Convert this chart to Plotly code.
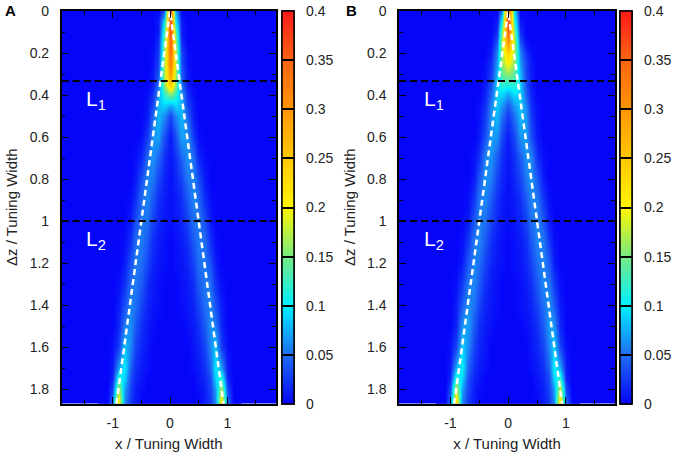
import plotly.graph_objects as go
from plotly.subplots import make_subplots

# grid: columns are x / tuning width, rows are dz / tuning width
x_cols = [-1.2, -1.1, -1.0, -0.9, -0.8, -0.7, -0.6, -0.5, -0.4, -0.3, -0.2, -0.1, 0.0,
          0.1, 0.2, 0.3, 0.4, 0.5, 0.6, 0.7, 0.8, 0.9, 1.0, 1.1, 1.2]
z_rows = [0.0, 0.05, 0.1, 0.15, 0.2, 0.25, 0.3, 0.35, 0.4, 0.45, 0.5, 0.6, 0.7, 0.8,
          0.9, 1.0, 1.1, 1.2, 1.3, 1.4, 1.5, 1.6, 1.7, 1.75, 1.8, 1.87]

# panel A
dens_a = [
    [0, 0, 0, 0, 0, 0, 0, 0, 0, 0, 0, .04, .38, .08, 0, 0, 0, 0, 0, 0, 0, 0, 0, 0, 0],
    [0, 0, 0, 0, 0, 0, 0, 0, 0, 0, .01, .10, .38, .11, .01, 0, 0, 0, 0, 0, 0, 0, 0, 0, 0],
    [0, 0, 0, 0, 0, 0, 0, 0, 0, 0, .01, .13, .37, .15, .01, 0, 0, 0, 0, 0, 0, 0, 0, 0, 0],
    [0, 0, 0, 0, 0, 0, 0, 0, 0, 0, .02, .15, .36, .17, .02, 0, 0, 0, 0, 0, 0, 0, 0, 0, 0],
    [0, 0, 0, 0, 0, 0, 0, 0, 0, .005, .025, .16, .35, .18, .03, .005, 0, 0, 0, 0, 0, 0, 0, 0, 0],
    [0, 0, 0, 0, 0, 0, 0, 0, 0, .005, .03, .17, .33, .18, .035, .005, 0, 0, 0, 0, 0, 0, 0, 0, 0],
    [0, 0, 0, 0, 0, 0, 0, 0, 0, .01, .04, .17, .30, .17, .04, .01, 0, 0, 0, 0, 0, 0, 0, 0, 0],
    [0, 0, 0, 0, 0, 0, 0, 0, 0, .01, .05, .16, .25, .16, .05, .01, 0, 0, 0, 0, 0, 0, 0, 0, 0],
    [0, 0, 0, 0, 0, 0, 0, 0, .005, .02, .07, .12, .15, .12, .07, .02, .005, 0, 0, 0, 0, 0, 0, 0, 0],
    [0, 0, 0, 0, 0, 0, 0, 0, .01, .03, .08, .09, .07, .09, .08, .03, .01, 0, 0, 0, 0, 0, 0, 0, 0],
    [0, 0, 0, 0, 0, 0, 0, 0, .01, .045, .08, .06, .03, .06, .08, .045, .01, 0, 0, 0, 0, 0, 0, 0, 0],
    [0, 0, 0, 0, 0, 0, 0, .005, .025, .065, .07, .035, .01, .035, .07, .065, .025, .005, 0, 0, 0, 0, 0, 0, 0],
    [0, 0, 0, 0, 0, 0, .005, .015, .05, .065, .045, .02, .008, .02, .045, .065, .05, .015, .005, 0, 0, 0, 0, 0, 0],
    [0, 0, 0, 0, 0, 0, .01, .035, .06, .055, .03, .015, .005, .015, .03, .055, .06, .035, .01, 0, 0, 0, 0, 0, 0],
    [0, 0, 0, 0, 0, .005, .02, .05, .06, .04, .02, .01, .005, .01, .02, .04, .06, .05, .02, .005, 0, 0, 0, 0, 0],
    [0, 0, 0, 0, 0, .01, .035, .055, .05, .03, .015, .008, .005, .008, .015, .03, .05, .055, .035, .01, 0, 0, 0, 0, 0],
    [0, 0, 0, 0, .005, .02, .05, .055, .04, .02, .01, .005, 0, .005, .01, .02, .04, .055, .05, .02, .005, 0, 0, 0, 0],
    [0, 0, 0, 0, .01, .035, .055, .05, .03, .015, .008, .005, 0, .005, .008, .015, .03, .05, .055, .035, .01, 0, 0, 0, 0],
    [0, 0, 0, .005, .02, .05, .055, .04, .02, .01, .005, 0, 0, 0, .005, .01, .02, .04, .055, .05, .02, .005, 0, 0, 0],
    [0, 0, 0, .01, .035, .06, .05, .03, .015, .008, .005, 0, 0, 0, .005, .008, .015, .03, .05, .06, .035, .01, 0, 0, 0],
    [0, 0, 0, .015, .055, .065, .04, .02, .01, .005, 0, 0, 0, 0, 0, .005, .01, .02, .04, .065, .055, .015, 0, 0, 0],
    [0, 0, .005, .025, .085, .06, .03, .015, .008, 0, 0, 0, 0, 0, 0, 0, .008, .015, .03, .06, .085, .025, .005, 0, 0],
    [0, 0, .01, .07, .10, .045, .02, .01, .005, 0, 0, 0, 0, 0, 0, 0, .005, .01, .02, .045, .10, .07, .01, 0, 0],
    [0, 0, .015, .12, .09, .035, .015, .008, 0, 0, 0, 0, 0, 0, 0, 0, 0, .008, .015, .035, .09, .12, .015, 0, 0],
    [0, 0, .03, .17, .07, .03, .012, .005, 0, 0, 0, 0, 0, 0, 0, 0, 0, .005, .012, .03, .07, .17, .03, 0, 0],
    [0, 0, .05, .22, .06, .025, .01, 0, 0, 0, 0, 0, 0, 0, 0, 0, 0, 0, .01, .025, .06, .22, .05, 0, 0],
]

# panel B
dens_b = [
    [0, 0, 0, 0, 0, 0, 0, 0, 0, 0, 0, .06, .38, .10, 0, 0, 0, 0, 0, 0, 0, 0, 0, 0, 0],
    [0, 0, 0, 0, 0, 0, 0, 0, 0, 0, .01, .12, .38, .13, .01, 0, 0, 0, 0, 0, 0, 0, 0, 0, 0],
    [0, 0, 0, 0, 0, 0, 0, 0, 0, 0, .02, .16, .35, .16, .02, 0, 0, 0, 0, 0, 0, 0, 0, 0, 0],
    [0, 0, 0, 0, 0, 0, 0, 0, 0, .005, .04, .18, .30, .18, .04, .005, 0, 0, 0, 0, 0, 0, 0, 0, 0],
    [0, 0, 0, 0, 0, 0, 0, 0, 0, .01, .06, .17, .24, .17, .06, .02, .005, 0, 0, 0, 0, 0, 0, 0, 0],
    [0, 0, 0, 0, 0, 0, 0, 0, .005, .02, .07, .16, .20, .16, .07, .03, .01, 0, 0, 0, 0, 0, 0, 0, 0],
    [0, 0, 0, 0, 0, 0, 0, 0, .005, .025, .08, .14, .16, .14, .08, .03, .01, 0, 0, 0, 0, 0, 0, 0, 0],
    [0, 0, 0, 0, 0, 0, 0, 0, .01, .035, .09, .12, .11, .12, .09, .035, .01, 0, 0, 0, 0, 0, 0, 0, 0],
    [0, 0, 0, 0, 0, 0, 0, 0, .015, .045, .09, .09, .07, .09, .09, .045, .015, 0, 0, 0, 0, 0, 0, 0, 0],
    [0, 0, 0, 0, 0, 0, 0, .005, .02, .06, .085, .065, .04, .065, .085, .06, .02, .005, 0, 0, 0, 0, 0, 0, 0],
    [0, 0, 0, 0, 0, 0, 0, .005, .025, .065, .08, .05, .025, .05, .08, .065, .025, .005, 0, 0, 0, 0, 0, 0, 0],
    [0, 0, 0, 0, 0, 0, 0, .01, .035, .07, .065, .03, .01, .03, .065, .07, .035, .01, 0, 0, 0, 0, 0, 0, 0],
    [0, 0, 0, 0, 0, 0, .005, .02, .06, .065, .04, .02, .008, .02, .04, .065, .06, .02, .005, 0, 0, 0, 0, 0, 0],
    [0, 0, 0, 0, 0, 0, .01, .04, .065, .055, .03, .015, .005, .015, .03, .055, .065, .04, .01, 0, 0, 0, 0, 0, 0],
    [0, 0, 0, 0, 0, .005, .025, .055, .06, .04, .02, .01, .005, .01, .02, .04, .06, .055, .025, .005, 0, 0, 0, 0, 0],
    [0, 0, 0, 0, 0, .01, .04, .06, .05, .03, .015, .008, .005, .008, .015, .03, .05, .06, .04, .01, 0, 0, 0, 0, 0],
    [0, 0, 0, 0, .005, .025, .055, .06, .04, .02, .01, .005, 0, .005, .01, .02, .04, .06, .055, .025, .005, 0, 0, 0, 0],
    [0, 0, 0, 0, .01, .04, .06, .05, .03, .015, .008, .005, 0, .005, .008, .015, .03, .05, .06, .04, .01, 0, 0, 0, 0],
    [0, 0, 0, .005, .025, .055, .06, .04, .02, .01, .005, 0, 0, 0, .005, .01, .02, .04, .06, .055, .025, .005, 0, 0, 0],
    [0, 0, 0, .01, .04, .065, .05, .03, .015, .008, .005, 0, 0, 0, .005, .008, .015, .03, .05, .065, .04, .01, 0, 0, 0],
    [0, 0, 0, .015, .065, .07, .04, .02, .01, .005, 0, 0, 0, 0, 0, .005, .01, .02, .04, .07, .065, .015, 0, 0, 0],
    [0, 0, .005, .03, .09, .06, .03, .015, .008, 0, 0, 0, 0, 0, 0, 0, .008, .015, .03, .06, .09, .03, .005, 0, 0],
    [0, 0, .01, .075, .105, .045, .02, .01, .005, 0, 0, 0, 0, 0, 0, 0, .005, .01, .02, .045, .105, .075, .01, 0, 0],
    [0, 0, .015, .125, .09, .035, .015, .008, 0, 0, 0, 0, 0, 0, 0, 0, 0, .008, .015, .035, .09, .125, .015, 0, 0],
    [0, 0, .03, .18, .07, .03, .012, .005, 0, 0, 0, 0, 0, 0, 0, 0, 0, .005, .012, .03, .07, .18, .03, 0, 0],
    [0, 0, .05, .23, .06, .025, .01, 0, 0, 0, 0, 0, 0, 0, 0, 0, 0, 0, .01, .025, .06, .23, .05, 0, 0],
]

# white dashed V (ballistic path) and the two reference depths
v_x = [-0.935, 0.0, 0.935]
v_z = [1.87, 0.0, 1.87]
level_z = [1 / 3, 1.0]
level_text = ['L<sub>1</sub>', 'L<sub>2</sub>']

cbar_vals = [0, 0.05, 0.1, 0.15, 0.2, 0.25, 0.3, 0.35, 0.4]
cbar_text = ['0', '0.05', '0.1', '0.15', '0.2', '0.25', '0.3', '0.35', '0.4']
x_tick_vals = [-1, 0, 1]
x_tick_text = ['-1', '0', '1']

BG = 'rgb(5,5,250)'
scale = [
    [0.0, BG],
    [0.125, 'rgb(30,110,245)'],
    [0.25, 'rgb(0,240,255)'],
    [0.375, 'rgb(120,235,130)'],
    [0.5, 'rgb(255,245,0)'],
    [0.625, 'rgb(255,200,0)'],
    [0.75, 'rgb(255,150,0)'],
    [0.875, 'rgb(255,100,20)'],
    [1.0, 'rgb(255,25,25)'],
]

W, H = 677, 460
FONT = 'Liberation Sans, Arial, sans-serif'
TOP, BOT = 11, 403.5
CB_W = 12


def bar(cb_left, labels):
    # gnuplot style: tic lines run across the bar, labels sit a bit away from it
    cb = dict(
        x=cb_left / W, xanchor='left', xpad=0, ypad=0,
        y=1 - TOP / H, yanchor='top', len=(BOT - TOP) / H, lenmode='fraction',
        thickness=CB_W, outlinecolor='black', outlinewidth=1.5,
        tickvals=cbar_vals, ticktext=cbar_text,
        tickfont=dict(size=14, color='#222'),
    )
    if labels:
        cb.update(ticks='outside', ticklen=9, tickcolor='rgba(0,0,0,0)')
    else:
        cb.update(ticks='inside', ticklen=CB_W, tickcolor='black', tickwidth=1.5,
                  showticklabels=False)
    return cb


fig = make_subplots(rows=1, cols=2)

panels = [(dens_a, 1, 282), (dens_b, 2, 620)]
for dens, col, cb_left in panels:
    for labels in (True, False):
        fig.add_trace(go.Heatmap(
            x=x_cols, y=z_rows, z=dens, zmin=0, zmax=0.4,
            colorscale=scale, zsmooth='best', hoverinfo='skip',
            colorbar=bar(cb_left, labels),
        ), row=1, col=col)
    fig.add_trace(go.Scatter(
        x=v_x, y=v_z, mode='lines', showlegend=False, hoverinfo='skip',
        line=dict(color='white', width=2.5, dash='6px,4px'),
    ), row=1, col=col)

    xn = 'x' if col == 1 else 'x2'
    yn = 'y' if col == 1 else 'y2'
    for lz, lt in zip(level_z, level_text):
        fig.add_shape(type='line', xref=xn + ' domain', yref=yn,
                      x0=0, x1=1, y0=lz, y1=lz, layer='above',
                      line=dict(color='black', width=2, dash='7px,4px'))
        fig.add_annotation(x=-1.5, y=lz + 0.02, xref=xn, yref=yn, text=lt,
                           showarrow=False, xanchor='left', yanchor='top',
                           font=dict(size=21, color='white', family=FONT))

axis_common = dict(
    showline=True, linecolor='black', linewidth=1.5, mirror='ticks',
    ticks='inside', tickcolor='black', tickwidth=1.2, showgrid=False, zeroline=False,
    tickfont=dict(size=14, color='#222'),
)
for i, dom in [(1, [61.7 / W, 276 / W]), (2, [399 / W, 615 / W])]:
    fig.update_xaxes(
        domain=dom, range=[-1.89, 1.85], tickvals=x_tick_vals, ticktext=x_tick_text,
        ticklen=7, minor=dict(dtick=0.5, tick0=0, ticklen=4, ticks='inside', tickcolor='black'),
        ticklabelstandoff=6,
        title=dict(text='x / Tuning Width', font=dict(size=15, color='#222'), standoff=8),
        row=1, col=i, **axis_common)
    fig.update_yaxes(
        domain=[1 - BOT / H, 1 - TOP / H], range=[1.868, 0], dtick=0.2, tick0=0,
        ticklen=7, minor=dict(dtick=0.1, tick0=0, ticklen=4, ticks='inside', tickcolor='black'),
        ticklabelstandoff=8,
        title=dict(text='Δz / Tuning Width', font=dict(size=15, color='#222'), standoff=8),
        row=1, col=i, **axis_common)

for lbl, px in [('A', 11), ('B', 352)]:
    fig.add_annotation(x=px / W, y=1 - 11 / H, xref='paper', yref='paper', text='<b>' + lbl + '</b>',
                       xanchor='center', yanchor='middle', showarrow=False,
                       font=dict(size=15, color='black', family=FONT))

fig.update_layout(
    width=W, height=H, margin=dict(l=0, r=0, t=0, b=0, autoexpand=False),
    paper_bgcolor='white', plot_bgcolor=BG, showlegend=False,
    font=dict(family=FONT, color='#222'),
)

fig.write_html("out.html", config={'displayModeBar': False},
               post_script="document.body.style.margin='0';")
